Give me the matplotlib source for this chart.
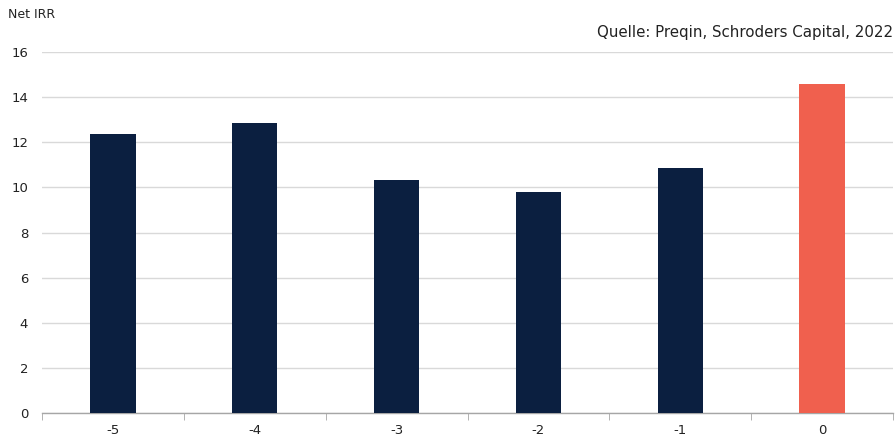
import matplotlib
matplotlib.use("Agg")
from matplotlib import pyplot as plt

categories = ["-5", "-4", "-3", "-2", "-1", "0"]
net_irr = [12.37, 12.85, 10.33, 9.80, 10.86, 14.58]
bar_colors = ["#0B1F40", "#0B1F40", "#0B1F40", "#0B1F40", "#0B1F40", "#F0604E"]
y_ticks = [0, 2, 4, 6, 8, 10, 12, 14, 16]

plt.rcParams['font.family'] = ['DejaVu Sans']

fig = plt.figure(figsize=(8.96, 4.38), dpi=100)
ax = fig.add_axes([42 / 896, 1 - 413 / 438, 851 / 896, 361 / 438])

xs = list(range(len(categories)))
ax.bar(xs, net_irr, width=0.32, color=bar_colors, zorder=3)

ax.set_xlim(-0.5, len(categories) - 0.5)
ax.set_ylim(0, 16)
ax.set_yticks(y_ticks)
ax.set_yticklabels([str(t) for t in y_ticks], fontsize=9.5, color="#222222")
ax.set_xticks(xs)
ax.set_xticklabels(categories, fontsize=9.5, color="#222222")
ax.tick_params(axis="y", length=0, pad=10)
ax.tick_params(axis="x", which="major", length=0, pad=8)
# category boundary ticks
ax.set_xticks([x - 0.5 for x in range(len(categories) + 1)], minor=True)
ax.tick_params(axis="x", which="minor", length=5, color="#A6A6A6", direction="out")

ax.grid(axis="y", color="#D9D9D9", linewidth=1, zorder=0)
for s in ["top", "right", "left"]:
    ax.spines[s].set_visible(False)
ax.spines["bottom"].set_color("#A6A6A6")
ax.spines["bottom"].set_linewidth(1)

fig.text(8 / 896, 1 - 15 / 438, "Net IRR", fontsize=9, color="#222222", va="center", ha="left")
fig.text(893 / 896, 1 - 33 / 438, "Quelle: Preqin, Schroders Capital, 2022", fontsize=10.8,
         color="#222222", va="center", ha="right")

fig.savefig("out.png", dpi=100)
